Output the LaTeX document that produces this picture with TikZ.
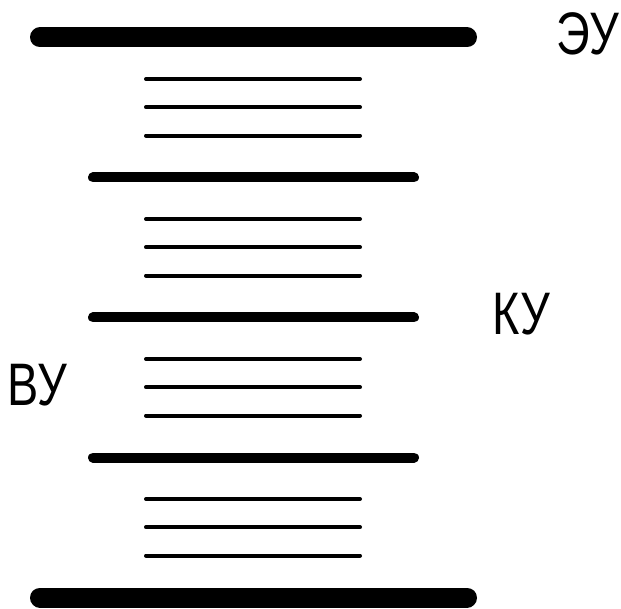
\documentclass[tikz,border=0pt]{standalone}
\usepackage{fontspec}
\setmainfont{Liberation Sans}[FakeStretch=0.78]
\begin{document}
\begin{tikzpicture}[x=1pt,y=-1pt,
  thickplate/.style={line width=20pt,line cap=round},
  midplate/.style={line width=10pt,line cap=round},
  thinplate/.style={line width=4pt,line cap=round},
  label/.style={anchor=base west,inner sep=0pt,font=\fontsize{60}{62}\selectfont}]
\useasboundingbox (0,0) rectangle (621,609);
% outer plates
\draw[thickplate] (40,37.5) -- (467,37.5);
\draw[thickplate] (40,597.5) -- (467,597.5);
% inner plates
\foreach \y in {177.5,317.5,457.5}
  \draw[midplate] (93,\y) -- (414,\y);
% thin line groups between plates
\foreach \k in {0,1,2,3}
  \foreach \d in {41.5,69.8,98.1}
    \draw[thinplate] (146,37.5+140*\k+\d) -- (360,37.5+140*\k+\d);
% labels
\node[label] (eu) at (556,55) {ЭУ};
\node[label] (ku) at (492.5,335) {КУ};
\node[label] (vu) at (7.5,405) {ВУ};
\end{tikzpicture}
\end{document}
